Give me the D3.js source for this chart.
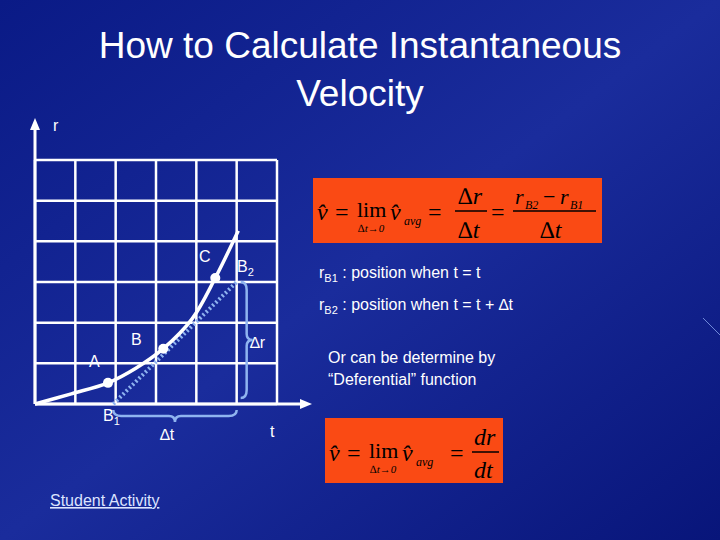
<!DOCTYPE html><html><head><meta charset="utf-8"><script src="https://cdn.jsdelivr.net/npm/d3@7"></script>
<style>body{margin:0}svg{display:block}</style></head><body><script>
const gridTicks=[0,1,2,3,4,5,6];
const curveT=[0,0.9,1.81,2.5,3.18,3.9,4.47,5.04];
const curveR=[0,0.25,0.52,0.88,1.36,2.1,3.1,4.26];
const pointNames=["A","B","C"];
const pointT=[1.81,3.18,4.47];
const pointR=[0.52,1.36,3.1];
const secantT=[1.94,5.0];
const secantR=[0,3.0];
const W=720,H=540;
const svg=d3.select("body").append("svg").attr("width",W).attr("height",H);
const defs=svg.append("defs");
const g=defs.append("linearGradient").attr("id","bg").attr("x1","0").attr("y1","0").attr("x2","1").attr("y2","1");
g.append("stop").attr("offset","0").attr("stop-color","#0a1a86");
g.append("stop").attr("offset","0.5").attr("stop-color","#1a2c9c");
g.append("stop").attr("offset","1").attr("stop-color","#08157a");
svg.append("rect").attr("width",W).attr("height",H).attr("fill","url(#bg)");
const x=d3.scaleLinear().domain([0,6]).range([35,277]);
const y=d3.scaleLinear().domain([0,6]).range([404,160]);
const F="Arial, Liberation Sans, sans-serif";
svg.append("text").attr("x",360).attr("y",58).attr("text-anchor","middle").attr("fill","#fff").attr("font-family",F).attr("font-size",37).text("How to Calculate Instantaneous");
svg.append("text").attr("x",360).attr("y",106).attr("text-anchor","middle").attr("fill","#fff").attr("font-family",F).attr("font-size",37).text("Velocity");
// grid
const gg=svg.append("g").attr("stroke","#fff").attr("stroke-width",2.5);
gridTicks.forEach(t=>{gg.append("line").attr("x1",x(t)).attr("x2",x(t)).attr("y1",y(0)).attr("y2",y(6));
gg.append("line").attr("y1",y(t)).attr("y2",y(t)).attr("x1",x(0)).attr("x2",x(6));});
// axes
svg.append("line").attr("x1",x(0)).attr("x2",304).attr("y1",y(0)).attr("y2",y(0)).attr("stroke","#fff").attr("stroke-width",3);
svg.append("path").attr("d",`M312,${y(0)} L300,${y(0)-5} L300,${y(0)+5}Z`).attr("fill","#fff");
svg.append("line").attr("x1",x(0)).attr("x2",x(0)).attr("y1",y(0)).attr("y2",128).attr("stroke","#fff").attr("stroke-width",3);
svg.append("path").attr("d",`M${x(0)},118 L${x(0)-5},130 L${x(0)+5},130Z`).attr("fill","#fff");
const T=(xx,yy,s,sz,sub,subsz)=>{const t=svg.append("text").attr("x",xx).attr("y",yy).attr("fill","#fff").attr("font-family",F).attr("font-size",sz||16).text(s);
 if(sub)t.append("tspan").attr("font-size",subsz||11).attr("dy",4).text(sub);return t;};
T(53,131,"r");T(270,437,"t");
// secant
const line=d3.line().x((d,i)=>x(d[0])).y(d=>y(d[1]));
svg.append("path").attr("d",line(secantT.map((t,i)=>[t,secantR[i]]))).attr("stroke","#8fb4f0").attr("stroke-width",4).attr("stroke-dasharray","2 2.5").attr("fill","none");
// curve
svg.append("path").attr("d",d3.line().x(d=>x(d[0])).y(d=>y(d[1])).curve(d3.curveCatmullRom)(curveT.map((t,i)=>[t,curveR[i]]))).attr("stroke","#fff").attr("stroke-width",3.5).attr("fill","none");
pointT.forEach((t,i)=>svg.append("circle").attr("cx",x(t)).attr("cy",y(pointR[i])).attr("r",5).attr("fill","#fff"));
T(89,367,"A");T(131,345,"B");T(199,262,"C");T(237,272,"B","16","2");
T(103,421,"B","16","1");
// braces
const bc="#8fb4f0";
svg.append("path").attr("d",`M${x(1.94)},410 Q${x(1.94)},416 ${x(1.94)+8},416 L${(x(1.94)+x(5))/2-6},416 Q${(x(1.94)+x(5))/2},416 ${(x(1.94)+x(5))/2},422 Q${(x(1.94)+x(5))/2},416 ${(x(1.94)+x(5))/2+6},416 L${x(5)-8},416 Q${x(5)},416 ${x(5)},410`).attr("stroke",bc).attr("stroke-width",2.5).attr("fill","none");
const bx=x(5)+4,y1=y(3),y2=y(0.15),ym=(y1+y2)/2;
svg.append("path").attr("d",`M${bx},${y1} Q${bx+6},${y1} ${bx+6},${y1+8} L${bx+6},${ym-6} Q${bx+6},${ym} ${bx+12},${ym} Q${bx+6},${ym} ${bx+6},${ym+6} L${bx+6},${y2-8} Q${bx+6},${y2} ${bx},${y2}`).attr("stroke",bc).attr("stroke-width",2.5).attr("fill","none");
T(250,348,"∆r");T(160,440,"∆t");
// formula boxes
svg.append("rect").attr("x",313).attr("y",178).attr("width",289).attr("height",65).attr("fill","#fa4a14");
svg.append("rect").attr("x",325).attr("y",418).attr("width",178).attr("height",65).attr("fill","#fa4a14");
const TF="Times New Roman, Liberation Serif, serif";
const ft=(xx,yy,s,sz,st)=>{const t=svg.append("text").attr("x",xx).attr("y",yy).attr("fill","#000").attr("font-family",TF).attr("font-size",sz).text(s);if(st)t.attr("font-style","italic");return t;};
ft(317,220,"v̂",24,1);ft(335,220,"=",24);ft(357,217,"lim",22);ft(358,232,"∆t→0",11,1);ft(390,220,"v̂",24,1);ft(404,225,"avg",12,1);ft(428,220,"=",24);
ft(458,204,"∆r",24,1);svg.append("line").attr("x1",455).attr("x2",487).attr("y1",211).attr("y2",211).attr("stroke","#000").attr("stroke-width",1.5);ft(458,238,"∆t",24,1);
ft(491,220,"=",24);
ft(515,204,"r",22,1);ft(525,209,"B2",12,1);ft(543,204,"−",22);ft(560,204,"r",22,1);ft(570,209,"B1",12,1);
svg.append("line").attr("x1",513).attr("x2",596).attr("y1",211).attr("y2",211).attr("stroke","#000").attr("stroke-width",1.5);ft(540,238,"∆t",24,1);
ft(329,461,"v̂",24,1);ft(347,461,"=",24);ft(369,458,"lim",22);ft(370,473,"∆t→0",11,1);ft(402,461,"v̂",24,1);ft(416,466,"avg",12,1);ft(450,461,"=",24);
ft(474,445,"dr",24,1);svg.append("line").attr("x1",472).attr("x2",499).attr("y1",452).attr("y2",452).attr("stroke","#000").attr("stroke-width",1.5);ft(474,478,"dt",24,1);
// right text
const r1=T(319,278,"r","16");r1.append("tspan").attr("font-size",11).attr("dy",4).text("B1");r1.append("tspan").attr("dy",-4).text(" : position when t = t");
const r2=T(319,310,"r","16");r2.append("tspan").attr("font-size",11).attr("dy",4).text("B2");r2.append("tspan").attr("dy",-4).text(" : position when t = t + ∆t");
T(328,363,"Or can be determine by");T(328,385,"“Deferential” function");
T(50,506,"Student Activity").attr("text-decoration","underline").attr("fill","#dde4ff");
svg.append("line").attr("x1",703).attr("y1",318).attr("x2",720).attr("y2",335).attr("stroke","#6f88d8").attr("stroke-width",1);
</script></body></html>
